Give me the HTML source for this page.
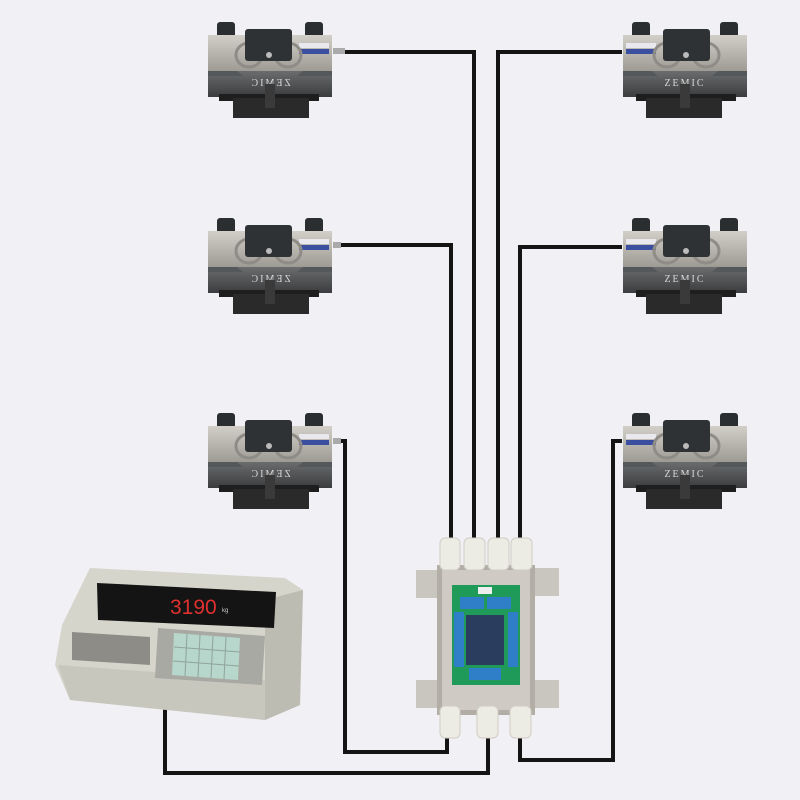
<!DOCTYPE html>
<html><head><meta charset="utf-8"><style>
html,body{margin:0;padding:0;background:#f1f1f5;}
svg{display:block}
</style></head><body>
<svg width="800" height="800" viewBox="0 0 800 800" xmlns="http://www.w3.org/2000/svg">
<defs>
<linearGradient id="body" x1="0" y1="0" x2="0" y2="1"><stop offset="0" stop-color="#d2cec8"/><stop offset="1" stop-color="#9e9a94"/></linearGradient>
<linearGradient id="band" x1="0" y1="0" x2="0" y2="1"><stop offset="0" stop-color="#6a6c6e"/><stop offset="1" stop-color="#3a3c3e"/></linearGradient>
<g id="cell">
  <rect x="10" y="0" width="18" height="16" rx="3" fill="#2b2e30"/>
  <rect x="98" y="0" width="18" height="16" rx="3" fill="#2b2e30"/>
  <rect x="1" y="13" width="124" height="36" fill="url(#body)"/>
  <rect x="4" y="21" width="30" height="5" fill="#e8e8ee"/>
  <rect x="4" y="27" width="30" height="5" fill="#3a4fa0"/>
  <ellipse cx="45" cy="33" rx="13" ry="12" fill="none" stroke="#8f8b86" stroke-width="3"/>
  <ellipse cx="84" cy="33" rx="13" ry="12" fill="none" stroke="#8f8b86" stroke-width="3"/>
  <rect x="1" y="49" width="124" height="26" fill="url(#band)"/>
  <path d="M1 49 L30 49 L36 54 L90 54 L96 49 L125 49 L125 54 L1 54Z" fill="#55585a"/>
  <text x="63" y="64" font-family="Liberation Serif,serif" font-size="10" letter-spacing="2" fill="#d8d8d8" text-anchor="middle">ZEMIC</text>
  <rect x="41" y="7" width="47" height="32" rx="3" fill="#2f3234"/>
  <circle cx="64" cy="33" r="3" fill="#bbb"/>
  <rect x="14" y="72" width="100" height="7" fill="#1e1e1e"/>
  <rect x="24" y="76" width="76" height="20" fill="#2a2a2a"/>
  <rect x="58" y="62" width="10" height="24" fill="#3a3a3a"/>
</g>
</defs>
<g fill="none" stroke="#141414" stroke-width="4">
  <path d="M345 52 H474 V540"/>
  <path d="M340 245 H451 V540"/>
  <path d="M340 441 H345 V752 H447 V735"/>
  <path d="M622 52 H498 V540"/>
  <path d="M622 247 H520 V540"/>
  <path d="M622 441 H613 V760 H520 V735"/>
  <path d="M165 700 V773 H488 V735"/>
</g>
<use href="#cell" transform="translate(622,22)"/>
<use href="#cell" transform="translate(622,218)"/>
<use href="#cell" transform="translate(622,413)"/>
<use href="#cell" transform="translate(333,22) scale(-1,1)"/>
<use href="#cell" transform="translate(333,218) scale(-1,1)"/>
<use href="#cell" transform="translate(333,413) scale(-1,1)"/>
<rect x="333" y="48" width="12" height="6" fill="#aaa"/>
<rect x="333" y="242" width="8" height="6" fill="#aaa"/>
<rect x="333" y="438" width="8" height="6" fill="#aaa"/>
<g>
  <rect x="416" y="570" width="22" height="28" fill="#c9c6c0"/>
  <rect x="416" y="680" width="22" height="28" fill="#c9c6c0"/>
  <rect x="535" y="568" width="24" height="28" fill="#c9c6c0"/>
  <rect x="535" y="680" width="24" height="28" fill="#c9c6c0"/>
  <rect x="437" y="565" width="98" height="150" fill="#b2aea6"/>
  <rect x="442" y="570" width="88" height="140" fill="#cfcbc4"/>
  <rect x="452" y="585" width="68" height="100" fill="#1f9a58"/>
  <rect x="460" y="597" width="24" height="12" fill="#2f7fc8"/>
  <rect x="487" y="597" width="24" height="12" fill="#2f7fc8"/>
  <rect x="454" y="612" width="10" height="55" fill="#2f7fc8"/>
  <rect x="508" y="612" width="10" height="55" fill="#2f7fc8"/>
  <rect x="466" y="615" width="38" height="50" fill="#2a3d5e"/>
  <rect x="469" y="668" width="32" height="12" fill="#2f7fc8"/>
  <rect x="478" y="587" width="14" height="7" fill="#eee"/>
  <g fill="#ecebe4" stroke="#cfcdc4">
    <rect x="440" y="538" width="20" height="32" rx="5"/>
    <rect x="464" y="538" width="21" height="32" rx="5"/>
    <rect x="488" y="538" width="21" height="32" rx="5"/>
    <rect x="511" y="538" width="21" height="32" rx="5"/>
    <rect x="440" y="706" width="20" height="32" rx="5"/>
    <rect x="477" y="706" width="21" height="32" rx="5"/>
    <rect x="510" y="706" width="21" height="32" rx="5"/>
  </g>
</g>
<g>
  <path d="M90 568 L285 578 L303 590 L300 705 L265 720 L70 700 L55 665 L62 625Z" fill="#d6d5cc"/>
  <path d="M265 600 L303 590 L300 705 L265 720Z" fill="#bdbcb3"/>
  <path d="M58 665 L265 680 L265 720 L70 700Z" fill="#c8c7be"/>
  <path d="M97 583 L276 592 L274 628 L98 620Z" fill="#141414"/>
  <text x="170" y="614" font-family="Liberation Sans,sans-serif" font-size="21" fill="#e03030">3190</text>
  <text x="222" y="612" font-family="Liberation Sans,sans-serif" font-size="6" fill="#ccc">kg</text>
  <path d="M72 632 L150 637 L150 665 L72 660Z" fill="#8d8c86"/>
  <path d="M158 628 L265 636 L262 685 L155 678Z" fill="#a9a9a4"/>
  <path d="M174 633 L240 638 L238 680 L172 675Z" fill="#b7d6cc"/>
  <g stroke="#8fa39c" stroke-width="1">
    <path d="M187 634 L185 676 M200 635 L198 677 M213 636 L211 678 M226 637 L224 679"/>
    <path d="M174 647 L240 652 M173 661 L239 666"/>
  </g>
</g>
</svg>
</body></html>
